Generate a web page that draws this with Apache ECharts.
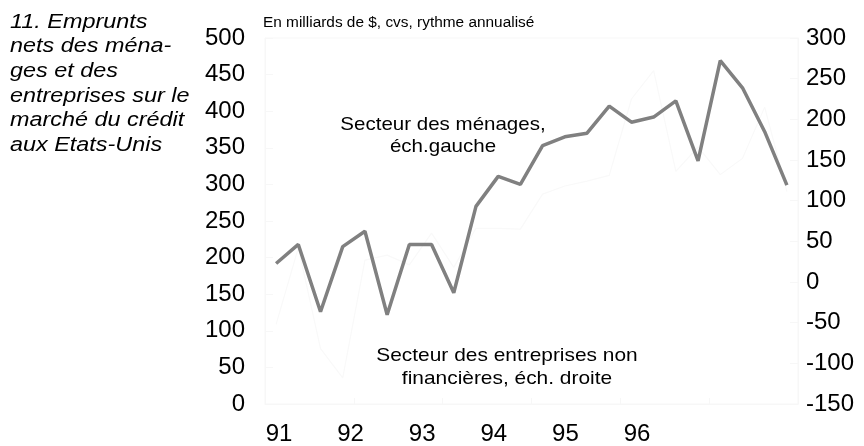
<!DOCTYPE html>
<html><head><meta charset="utf-8">
<script src="https://cdn.jsdelivr.net/npm/echarts@6/dist/echarts.min.js"></script>
<style>html,body{margin:0;padding:0;background:#fff}#c{width:864px;height:446px}</style>
</head><body><div id="c"></div>
<script>
const quarters = ['91T1','91T2','91T3','91T4','92T1','92T2','92T3','92T4','93T1','93T2','93T3','93T4',
  '94T1','94T2','94T3','94T4','95T1','95T2','95T3','95T4','96T1','96T2','96T3','96T4'];
const menages = [192,218,126,215,236,122,218,218,152,270,311,300,353,365,370,407,385,392,414,332,469,432,372,299];
const entreprises = [-52,42,-82,-118,27,33,21,60,18,66,66,65,108,118,124,131,225,260,136,166,132,152,215,111];
const yearLabels = [91,92,93,94,95,96];
const titleLines = ['11. Emprunts','nets des ména-','ges et des','entreprises sur le','marché du crédit','aux Etats-Unis'];

const FONT = '"Liberation Sans", Arial, sans-serif';
const faint = '#f7f7f7';
const chart = echarts.init(document.getElementById('c'), null, {renderer:'canvas'});
chart.setOption({
  animation:false,
  backgroundColor:'#fff',
  grid:{left:265, right:66, top:38, bottom:38, show:true, borderColor:faint, borderWidth:1},
  xAxis:[
    {type:'category', data:quarters, boundaryGap:true, position:'bottom',
     axisLine:{show:true, lineStyle:{color:faint}},
     axisTick:{show:true, inside:true, interval:3, length:6, lineStyle:{color:faint}},
     axisLabel:{show:false}, splitLine:{show:false}},
    {type:'value', min:90.8045, max:98.2486, position:'bottom',
     axisLine:{show:false}, axisTick:{show:false}, splitLine:{show:false},
     axisLabel:{show:true, customValues:yearLabels, margin:18, color:'#000', fontSize:24, fontFamily:FONT,
       formatter:v=>String(Math.round(v))}}
  ],
  yAxis:[
    {type:'value', min:0, max:500, interval:50, position:'left',
     axisLine:{show:true, lineStyle:{color:faint}},
     axisTick:{show:true, inside:true, length:8, lineStyle:{color:faint}},
     splitLine:{show:false},
     axisLabel:{margin:20, color:'#000', fontSize:24, fontFamily:FONT}},
    {type:'value', min:-150, max:300, interval:50, position:'right',
     axisLine:{show:true, lineStyle:{color:faint}},
     axisTick:{show:true, inside:true, length:8, lineStyle:{color:faint}},
     splitLine:{show:false},
     axisLabel:{margin:8, color:'#000', fontSize:24, fontFamily:FONT}}
  ],
  series:[
    {name:'Secteur des entreprises non financières', type:'line', xAxisIndex:0, yAxisIndex:1, data:entreprises,
     symbol:'none', lineStyle:{color:'#f9f9f9', width:1.2}, z:1},
    {name:'Secteur des ménages', type:'line', xAxisIndex:0, yAxisIndex:0, data:menages,
     symbol:'none', lineStyle:{color:'#808080', width:3.5}, z:2}
  ],
  graphic:[
    {type:'text', x:10, y:10, originX:0, scaleX:1.17, style:{text:titleLines.join('\n'), font:'italic 20px '+FONT, lineHeight:24.6, fill:'#000'}},
    {type:'text', x:263, y:16, originX:0, scaleX:1.1, style:{text:'En milliards de $, cvs, rythme annualisé', font:'14px '+FONT, fill:'#000'}},
    {type:'text', x:443, y:114, originX:0, scaleX:1.08, style:{text:'Secteur des ménages,\néch.gauche', font:'19px '+FONT, lineHeight:22, fill:'#000', align:'center'}},
    {type:'text', x:507, y:344, originX:0, scaleX:1.1, style:{text:'Secteur des entreprises non\nfinancières, éch. droite', font:'19px '+FONT, lineHeight:23, fill:'#000', align:'center'}}
  ]
});
</script></body></html>
